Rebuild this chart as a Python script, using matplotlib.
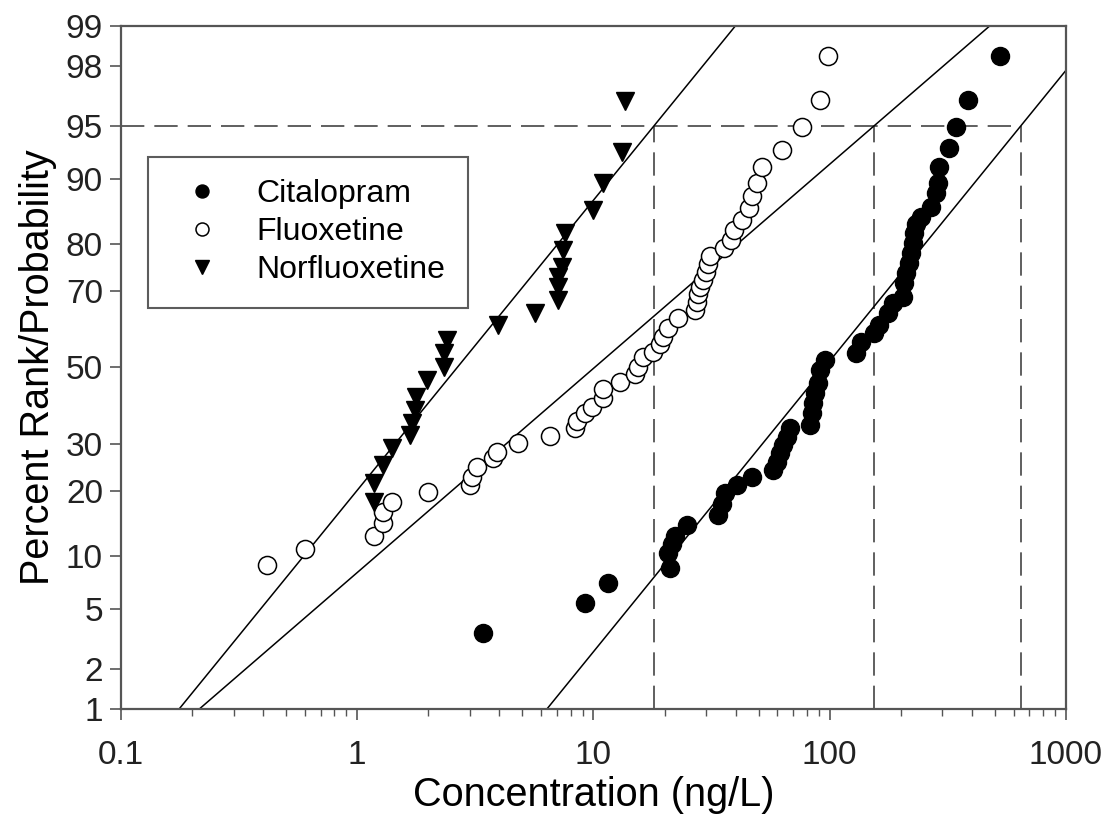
#!/usr/bin/env python3
"""Log-probability plot of antidepressant concentrations (percent rank vs ng/L)."""

from statistics import NormalDist

import numpy as np
import matplotlib
matplotlib.use("Agg")
import matplotlib.pyplot as plt
from matplotlib.ticker import FixedLocator, NullLocator, FixedFormatter, LogLocator

plt.rcParams["font.family"] = ["Liberation Sans", "DejaVu Sans"]

# ---------------------------------------------------------------- data
cit_conc = [3.40, 9.20, 11.5, 21.1, 20.7, 21.5, 22.2, 24.9, 33.7, 35.1, 36.1, 40.6,
            47.0, 57.7, 60.0, 61.8, 63.6, 66.2, 68.2, 82.9, 84.5, 85.3, 87.0, 88.8,
            91.4, 95.9, 128.6, 135.0, 153.3, 161.0, 175.8, 184.6, 203.5, 205.6, 209.6,
            215.8, 220.0, 224.4, 226.6, 231.0, 242.6, 267.6, 281.0, 286.6, 289.3, 319.0,
            341.6, 384.0, 525.0]
cit_pct = [3.5, 5.4, 7.1, 8.6, 10.3, 11.5, 12.6, 14.1, 15.7, 17.7, 19.6, 21.1,
           22.7, 24.2, 25.9, 28.0, 29.8, 31.7, 34.0, 34.7, 37.8, 40.4, 43.1, 45.8,
           49.3, 52.0, 53.9, 56.9, 59.3, 61.4, 64.5, 67.0, 68.5, 71.8, 74.1,
           76.2, 78.3, 80.2, 82.1, 83.5, 84.8, 86.3, 88.3, 89.6, 91.4, 93.3,
           94.9, 96.6, 98.3]

flu_conc = [0.416, 0.603, 1.18, 1.28, 1.28, 1.40, 1.99, 2.99, 3.05, 3.21, 3.75, 3.90,
            4.78, 6.54, 8.35, 8.51, 9.20, 9.85, 10.97, 10.97, 12.95, 15.0, 15.45, 16.2,
            17.9, 19.1, 19.7, 20.7, 22.8, 26.9, 27.5, 27.8, 28.3, 29.1, 30.0, 30.6,
            31.2, 35.8, 38.3, 39.4, 42.6, 45.7, 47.0, 49.4, 51.9, 63.0, 76.6, 91.4, 98.8]
flu_pct = [8.9, 10.8, 12.6, 14.4, 16.2, 17.9, 19.8, 21.1, 22.7, 24.8, 26.8, 28.2,
           30.3, 32.0, 34.0, 35.8, 37.8, 39.4, 41.8, 44.2, 46.1, 48.2, 50.1, 52.9,
           54.2, 56.4, 58.2, 60.6, 63.2, 65.3, 67.3, 69.2, 70.9, 72.5, 74.3, 76.0,
           77.7, 79.3, 80.8, 82.6, 84.3, 86.2, 87.9, 89.6, 91.4, 93.1, 94.9, 96.6, 98.3]

nor_conc = [1.18, 1.18, 1.28, 1.40, 1.67, 1.70, 1.75, 1.78, 1.97, 2.34, 2.34, 2.39,
            3.93, 5.65, 7.06, 7.06, 7.06, 7.35, 7.43, 7.57, 9.95, 11.0, 13.2, 13.6]
nor_pct = [17.9, 21.5, 25.3, 29.1, 32.2, 35.2, 38.6, 42.0, 46.6, 50.1, 53.9, 57.4,
           61.4, 64.5, 67.8, 70.9, 73.2, 75.4, 78.9, 82.1, 85.9, 89.6, 92.9, 96.5]

# log-normal fits: median (ng/L) and standard deviation of log10(conc)
fit_names = ["Citalopram", "Fluoxetine", "Norfluoxetine"]
fit_median = [95.0, 10.1, 2.65]
fit_logsd = [0.505, 0.719, 0.506]

ref_pct = 95
y_ticks = [1, 2, 5, 10, 20, 30, 50, 70, 80, 90, 95, 98, 99]
x_ticks = [0.1, 1, 10, 100, 1000]
x_labels = ["0.1", "1", "10", "100", "1000"]

# ---------------------------------------------------------------- probability scale
ND = NormalDist()
_ppf = np.vectorize(ND.inv_cdf, otypes=[float])
_cdf = np.vectorize(ND.cdf, otypes=[float])


def to_z(p):
    p = np.clip(np.asarray(p, dtype=float) / 100.0, 1e-9, 1 - 1e-9)
    return _ppf(p)


def from_z(z):
    return 100.0 * _cdf(np.asarray(z, dtype=float))


fig = plt.figure(figsize=(11.06, 8.17), dpi=100)
ax = fig.add_axes([0.1094, 0.1322, 0.8544, 0.8360])
ax.set_xscale("log")
ax.set_yscale("function", functions=(to_z, from_z))
ax.set_xlim(0.1, 1000)
ax.set_ylim(1, 99)

# fitted lines and the 95th percentile guides
xs = np.logspace(-1, 3, 200)
x95 = []
for med, sd in zip(fit_median, fit_logsd):
    zz = (np.log10(xs) - np.log10(med)) / sd
    ax.plot(xs, from_z(zz), color="black", lw=1.1, zorder=2)
    x95.append(10 ** (np.log10(med) + ND.inv_cdf(ref_pct / 100) * sd))

dash = dict(color="#444444", lw=1.2, dashes=(14, 6), zorder=1)
ax.plot([0.1, max(x95)], [ref_pct, ref_pct], **dash)
for xv in x95:
    ax.plot([xv, xv], [1, ref_pct], **dash)

ax.plot(cit_conc, cit_pct, "o", ms=13, color="black", mec="black",
        label="Citalopram", zorder=4)
ax.plot(flu_conc, flu_pct, "o", ms=13, mfc="white", mec="black", mew=1.1,
        label="Fluoxetine", zorder=4)
ax.plot(nor_conc, nor_pct, "v", ms=13.5, color="black", label="Norfluoxetine", zorder=4)

# axes cosmetics
ax.yaxis.set_major_locator(FixedLocator(y_ticks))
ax.yaxis.set_major_formatter(FixedFormatter([str(t) for t in y_ticks]))
ax.yaxis.set_minor_locator(NullLocator())
ax.xaxis.set_major_locator(FixedLocator(x_ticks))
ax.xaxis.set_major_formatter(FixedFormatter(x_labels))
ax.xaxis.set_minor_locator(LogLocator(base=10, subs=np.arange(2, 10)))

for s in ax.spines.values():
    s.set_color("#555555")
    s.set_linewidth(1.6)
ax.tick_params(axis="both", which="major", direction="out", length=8, width=1.2,
               color="#555555", labelsize=24, labelcolor="#222222")
ax.tick_params(axis="x", which="major", pad=14)
ax.tick_params(axis="y", which="major", pad=5)
ax.tick_params(axis="x", which="minor", direction="out", length=5, width=1,
               color="#555555")

ax.set_xlabel("Concentration (ng/L)", fontsize=28.5, labelpad=4)
ax.set_ylabel("Percent Rank/Probability", fontsize=28.5, labelpad=6)

leg = ax.legend(loc="upper left", bbox_to_anchor=(0.0286, 0.808), borderaxespad=0,
                fontsize=23, frameon=True, fancybox=False, edgecolor="#333333",
                borderpad=0.7, handlelength=2.0, handletextpad=0.7, labelspacing=0.25,
                markerscale=0.72)
leg.get_frame().set_linewidth(1.5)

fig.savefig("out.png", dpi=100)
